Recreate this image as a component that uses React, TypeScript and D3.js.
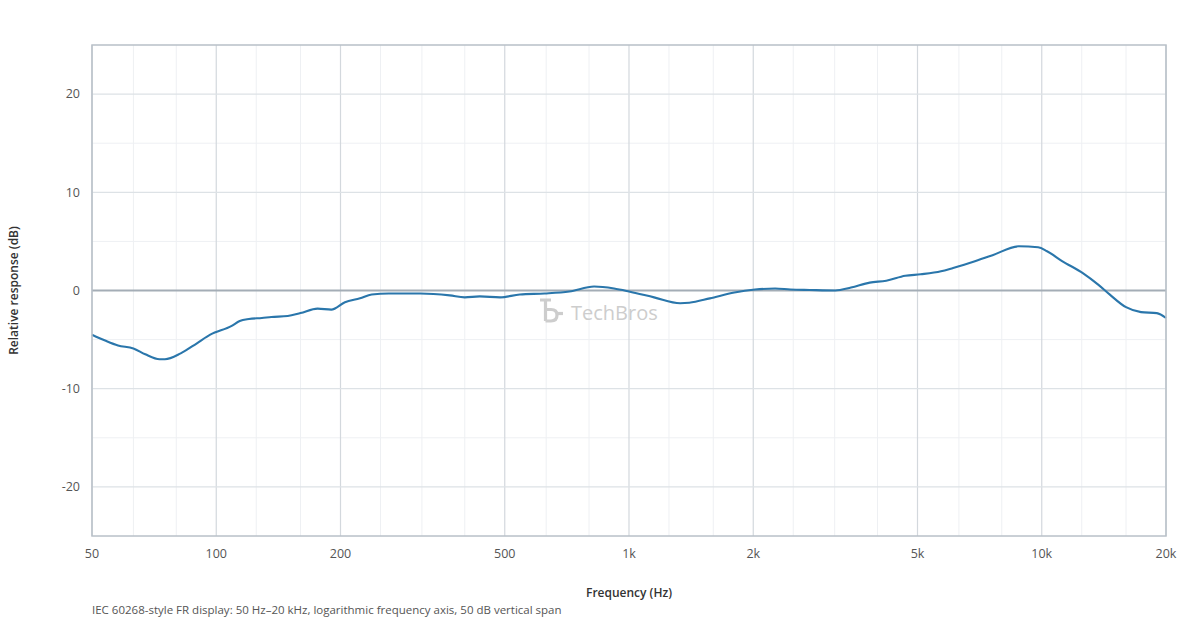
import React from 'react'
import * as d3 from 'd3'

// Frequency response trace (Hz, dB)
const freqs = [50, 53.8, 57.8, 63, 67.3, 72.9, 75.1, 82, 89.6, 96.7, 109, 114, 120, 129, 136, 149, 160, 176, 190, 205, 223, 238, 262, 312, 368, 400, 435, 487, 544, 625, 717, 823, 920, 1000, 1150, 1330, 1400, 1570, 1800, 2020, 2260, 2460, 2740, 3160, 3450, 3830, 4200, 4670, 5090, 5700, 6100, 6800, 7600, 8800, 9800, 10300, 11200, 12600, 13700, 14600, 16000, 17400, 19000, 20000]
const levels = [-4.5, -5.1, -5.6, -5.9, -6.5, -7.0, -7.0, -6.4, -5.4, -4.5, -3.6, -3.1, -2.9, -2.8, -2.7, -2.6, -2.3, -1.85, -1.95, -1.2, -0.8, -0.4, -0.3, -0.3, -0.5, -0.7, -0.6, -0.7, -0.4, -0.3, -0.1, 0.4, 0.2, -0.1, -0.7, -1.3, -1.25, -0.8, -0.2, 0.1, 0.2, 0.1, 0.05, 0, 0.3, 0.8, 1.0, 1.5, 1.65, 1.95, 2.3, 2.9, 3.6, 4.5, 4.4, 4.0, 3.0, 1.75, 0.6, -0.4, -1.7, -2.2, -2.3, -2.8]

const majorFreqs = [50, 100, 200, 500, 1000, 2000, 5000, 10000, 20000]
const majorLabels = ['50', '100', '200', '500', '1k', '2k', '5k', '10k', '20k']
const minorFreqs = [63, 80, 125, 160, 250, 315, 400, 630, 800, 1250, 1600, 2500, 3150, 4000, 6300, 8000, 12500, 16000]
const dbTicks = [20, 10, 0, -10, -20]
const dbMinor = [15, 5, -5, -15]

const W = 1200
const H = 620
const margin = { top: 45, right: 34, bottom: 84, left: 92 }
const font = '"Open Sans", "Noto Sans", sans-serif'

export default function App() {
  const x = d3.scaleLog().domain([50, 20000]).range([margin.left, W - margin.right])
  const y = d3.scaleLinear().domain([-25, 25]).range([H - margin.bottom, margin.top])

  const pts: [number, number][] = freqs.map((f, i) => [f, levels[i]])
  const line = d3.line<[number, number]>()
    .x(d => x(d[0]))
    .y(d => y(d[1]))
    .curve(d3.curveMonotoneX)

  const x0 = margin.left
  const x1 = W - margin.right
  const y0 = margin.top
  const y1 = H - margin.bottom
  const cx = (x0 + x1) / 2

  return (
    <svg width={W} height={H} style={{ position: 'absolute', left: 0, top: 0, display: 'block', background: '#fff' }}>
      {/* minor grid */}
      {minorFreqs.map(f => (
        <line key={'mf' + f} x1={x(f)} x2={x(f)} y1={y0} y2={y1} stroke="#eef0f3" strokeWidth={1} />
      ))}
      {dbMinor.map(v => (
        <line key={'md' + v} x1={x0} x2={x1} y1={y(v)} y2={y(v)} stroke="#eef0f3" strokeWidth={1} />
      ))}
      {/* major grid */}
      {majorFreqs.map(f => (
        <line key={'Mf' + f} x1={x(f)} x2={x(f)} y1={y0} y2={y1} stroke="#d3d8dd" strokeWidth={1.2} />
      ))}
      {dbTicks.filter(v => v !== 0).map(v => (
        <line key={'Md' + v} x1={x0} x2={x1} y1={y(v)} y2={y(v)} stroke="#dde2e6" strokeWidth={1.2} />
      ))}
      {/* zero reference */}
      <line x1={x0} x2={x1} y1={y(0)} y2={y(0)} stroke="#a4adb6" strokeWidth={2} />

      {/* watermark */}
      <g transform={`translate(${cx - 89},${y(0) + 8})`} fill="none" stroke="#cdcdcd" strokeWidth={3.2}>
        <path d="M0,1.5 L11,1.5 M5.5,1.5 L5.5,22.5 M5.5,11 L11,11 Q17,11 17,16.5 Q17,22.5 11,22.5 L5.5,22.5" />
        <path d="M16,15 L23,15" />
      </g>
      <text x={cx - 58} y={y(0) + 29} fontFamily={font} fontSize={20} fill="#cdcdcd">TechBros</text>

      {/* response */}
      <path d={line(pts) ?? ''} fill="none" stroke="#2a76ab" strokeWidth={2.1} strokeLinejoin="round" />

      {/* frame */}
      <rect x={x0} y={y0} width={x1 - x0} height={y1 - y0} fill="none" stroke="#b8c0c8" strokeWidth={1.5} />

      {/* y ticks */}
      {dbTicks.map(v => (
        <text key={'ty' + v} x={x0 - 12} y={y(v)} dy="0.35em" textAnchor="end" fontFamily={font} fontSize={12.5} fill="#555">{v}</text>
      ))}
      {/* x ticks */}
      {majorFreqs.map((f, i) => (
        <text key={'tx' + f} x={x(f)} y={y1 + 22} textAnchor="middle" fontFamily={font} fontSize={12.5} fill="#555">{majorLabels[i]}</text>
      ))}

      <text x={cx} y={597} textAnchor="middle" fontFamily={font} fontSize={12} fontWeight={600} fill="#333">Frequency (Hz)</text>
      <text transform={`translate(18,${y(0)}) rotate(-90)`} textAnchor="middle" fontFamily={font} fontSize={12} fontWeight={600} fill="#333">Relative response (dB)</text>
      <text x={x0} y={614} fontFamily={font} fontSize={11.5} fill="#555">IEC 60268-style FR display: 50 Hz–20 kHz, logarithmic frequency axis, 50 dB vertical span</text>
    </svg>
  )
}
